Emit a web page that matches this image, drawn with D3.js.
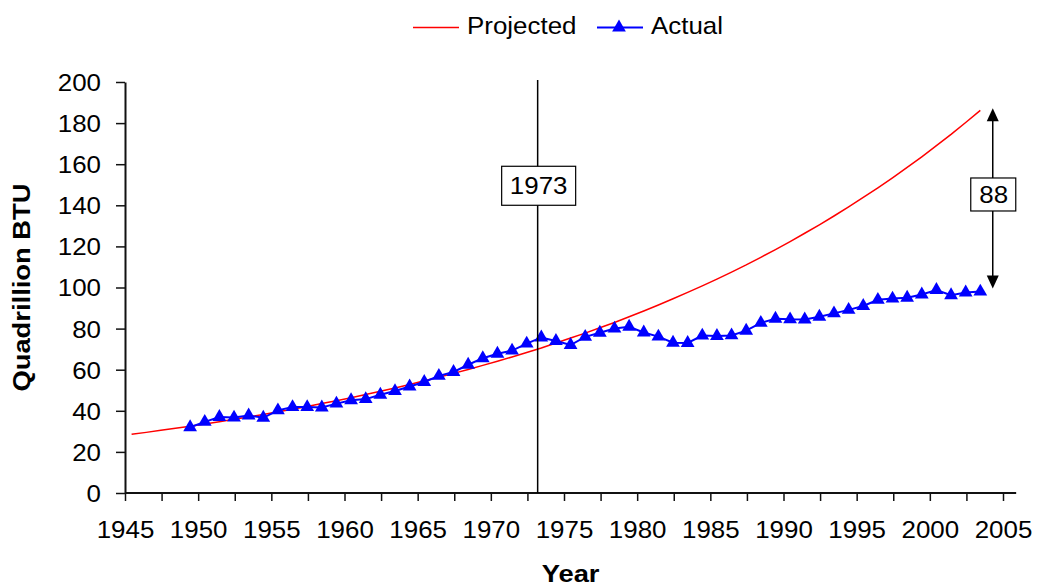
<!DOCTYPE html>
<html>
<head>
<meta charset="utf-8">
<script src="https://d3js.org/d3.v7.min.js"></script>
<style>
  body { margin: 0; background: #fff; }
  svg { display: block; font-family: 'Liberation Sans', Arial, sans-serif; }
</style>
</head>
<body>
<script>
// US energy use: projected (pre-1973 trend) vs actual, quadrillion BTU

const projectedStart = 1945;
const projected = [
  28.6, 29.5, 30.5, 31.5, 32.5, 33.6, 34.7, 35.9, 37.0, 38.2,
  39.5, 40.8, 42.1, 43.5, 44.9, 46.4, 47.9, 49.5, 51.1, 52.8,
  54.6, 56.3, 58.2, 60.1, 62.1, 64.1, 66.2, 68.4, 70.6, 73.0,
  75.4, 77.8, 80.4, 83.0, 85.8, 88.6, 91.5, 94.5, 97.6, 100.8,
  104.1, 107.5, 111.0, 114.7, 118.4, 122.3, 126.4, 130.5, 134.8, 139.2,
  143.8, 148.5, 153.4, 158.4, 163.6, 169.0, 174.5, 180.3, 186.2
];

const actualStart = 1949;
const actual = [
  32.0, 34.6, 37.0, 36.7, 37.7, 36.6, 40.2, 41.8, 41.8, 41.6,
  43.5, 45.1, 45.7, 47.8, 49.6, 51.8, 54.0, 57.0, 58.9, 62.4,
  65.6, 67.8, 69.3, 72.7, 75.7, 74.0, 72.0, 76.0, 78.0, 80.0,
  80.9, 78.1, 76.1, 73.1, 73.0, 76.6, 76.4, 76.7, 79.0, 82.8,
  84.8, 84.5, 84.4, 85.8, 87.4, 89.1, 91.0, 94.0, 94.6, 95.0,
  96.6, 98.8, 96.2, 97.6, 98.0
];

const xLabels = [1945, 1950, 1955, 1960, 1965, 1970, 1975, 1980, 1985, 1990, 1995, 2000, 2005];
const yTicks = [0, 20, 40, 60, 80, 100, 120, 140, 160, 180, 200];

const seriesNames = ['Projected', 'Actual'];
const seriesColors = ['#ff0000', '#0000ff'];

const cutoffYear = 1973.2;   // the 1973 marker line
const cutoffLabel = '1973';
const cutoffLabelValue = 149.5;
const gapYear = 2004.3;      // where the gap arrow stands
const midYear = 0.45;        // points sit a bit past the year tick

const width = 1040;
const height = 588;
const stretch = 1.08;        // the old renderer draws text a bit wide
const font = '24px';

const projectedData = projected.map((v, i) => ({ year: projectedStart + i, value: v }));
const actualData = actual.map((v, i) => ({ year: actualStart + i, value: v }));

const xScale = d3.scaleLinear()
                 .domain([1945, 2005])
                 .range([125, 1003]);

const yScale = d3.scaleLinear()
                 .domain([0, 200])
                 .range([493, 82]);

const svg = d3.select('body')
              .append('svg')
                .attr('width', width)
                .attr('height', height);

// axes
const minorTicks = d3.range(1945, 2005.01, 2.5);

const xAxis = d3.axisBottom(xScale)
                .tickValues(minorTicks)
                .tickSize(8)
                .tickSizeOuter(0)
                .tickFormat((d) => xLabels.includes(d) ? d : '');

const yAxis = d3.axisLeft(yScale)
                .tickValues(yTicks)
                .tickSize(9)
                .tickSizeOuter(0);

const gx = svg
  .append('g')
    .attr('transform', `translate(0, ${yScale(0)})`)
    .call(xAxis);

gx.select('.domain').remove();
gx.selectAll('.tick line')
  .attr('stroke', '#111')
  .attr('stroke-width', 1.5);
gx.selectAll('.tick text')
  .attr('y', 0)
  .attr('dy', null)
  .attr('fill', '#000')
  .style('font-size', font)
  .attr('transform', `translate(0, 45) scale(${stretch}, 1)`);

gx.append('line')
    .attr('x1', xScale(1945))
    .attr('x2', xScale(2005.9))
    .attr('stroke', '#111')
    .attr('stroke-width', 2);

const gy = svg
  .append('g')
    .attr('transform', `translate(${xScale(1945)}, 0)`)
    .call(yAxis);

gy.select('.domain')
  .attr('stroke', '#111')
  .attr('stroke-width', 2);
gy.selectAll('.tick line')
  .attr('stroke', '#111')
  .attr('stroke-width', 1.5);
gy.selectAll('.tick text')
  .attr('x', 0)
  .attr('dy', '0.35em')
  .attr('fill', '#000')
  .style('font-size', font)
  .attr('transform', `translate(-24, 0) scale(${stretch}, 1)`);

// axis titles
svg
  .append('text')
    .text('Quadrillion BTU')
    .attr('transform', `translate(30, ${(yScale(0) + yScale(200)) / 2}) rotate(-90) scale(1.14, 1)`)
    .style('text-anchor', 'middle')
    .style('font-size', font)
    .style('font-weight', 'bold');

svg
  .append('text')
    .text('Year')
    .attr('transform', `translate(${(xScale(1945) + xScale(2005.9)) / 2}, 582) scale(1.14, 1)`)
    .style('text-anchor', 'middle')
    .style('font-size', font)
    .style('font-weight', 'bold');

// series
const line = d3.line()
               .x((d) => xScale(d.year + midYear))
               .y((d) => yScale(d.value));

svg
  .append('path')
    .datum(projectedData)
    .attr('d', line)
    .attr('fill', 'none')
    .attr('stroke', seriesColors[0])
    .attr('stroke-width', 1.5);

svg
  .append('path')
    .datum(actualData)
    .attr('d', line)
    .attr('fill', 'none')
    .attr('stroke', seriesColors[1])
    .attr('stroke-width', 2);

const triangle = d3.symbol(d3.symbolTriangle, 82);

svg
  .selectAll('.marker')
  .data(actualData)
  .enter()
  .append('path')
    .attr('class', 'marker')
    .attr('d', triangle)
    .attr('transform', (d) => `translate(${xScale(d.year + midYear)}, ${yScale(d.value)})`)
    .attr('fill', seriesColors[1]);

// 1973 marker
const cx = xScale(cutoffYear);

svg
  .append('line')
    .attr('x1', cx)
    .attr('x2', cx)
    .attr('y1', yScale(200) - 2)
    .attr('y2', yScale(0))
    .attr('stroke', '#000')
    .attr('stroke-width', 1.5);

svg
  .append('rect')
    .attr('x', cx - 36)
    .attr('y', yScale(cutoffLabelValue) - 19.5)
    .attr('width', 74)
    .attr('height', 39)
    .attr('fill', '#fff')
    .attr('stroke', '#000')
    .attr('stroke-width', 1.2);

svg
  .append('text')
    .text(cutoffLabel)
    .attr('transform', `translate(${cx + 1}, ${yScale(cutoffLabelValue) + 8.5}) scale(${stretch}, 1)`)
    .style('text-anchor', 'middle')
    .style('font-size', font);

// gap arrow between projected and actual at the end
const lastProjected = projected[projected.length - 1];
const lastActual = actual[actual.length - 1];
const gx2 = xScale(gapYear);
const yTop = yScale(lastProjected) - 2;
const yBot = yScale(lastActual) - 3;
const yMid = (yTop + yBot) / 2 - 4;

svg
  .append('line')
    .attr('x1', gx2)
    .attr('x2', gx2)
    .attr('y1', yTop + 6)
    .attr('y2', yBot - 6)
    .attr('stroke', '#000')
    .attr('stroke-width', 1.5);

svg
  .append('path')
    .attr('d', `M${gx2},${yTop} L${gx2 - 6},${yTop + 13} L${gx2 + 6},${yTop + 13} Z`)
    .attr('fill', '#000');

svg
  .append('path')
    .attr('d', `M${gx2},${yBot} L${gx2 - 6},${yBot - 13} L${gx2 + 6},${yBot - 13} Z`)
    .attr('fill', '#000');

svg
  .append('rect')
    .attr('x', gx2 - 22)
    .attr('y', yMid - 16.5)
    .attr('width', 45)
    .attr('height', 33)
    .attr('fill', '#fff')
    .attr('stroke', '#000')
    .attr('stroke-width', 1.2);

svg
  .append('text')
    .text(Math.round(lastProjected - lastActual))
    .attr('transform', `translate(${gx2 + 1}, ${yMid + 8.5}) scale(${stretch}, 1)`)
    .style('text-anchor', 'middle')
    .style('font-size', font);

// legend
const legendX = [413, 597];

const legend = svg
  .selectAll('.legend')
  .data(seriesNames)
  .enter()
  .append('g')
    .attr('class', 'legend')
    .attr('transform', (d, i) => `translate(${legendX[i]}, 27.5)`);

legend
  .append('line')
    .attr('x1', 0)
    .attr('x2', 46)
    .attr('stroke', (d, i) => seriesColors[i])
    .attr('stroke-width', (d, i) => i === 0 ? 1.5 : 2);

legend
  .filter((d, i) => i === 1)
  .append('path')
    .attr('d', triangle)
    .attr('transform', 'translate(22, 0)')
    .attr('fill', seriesColors[1]);

legend
  .append('text')
    .text((d) => d)
    .attr('transform', `translate(54, 6) scale(${stretch}, 1)`)
    .style('font-size', font);
</script>
</body>
</html>
